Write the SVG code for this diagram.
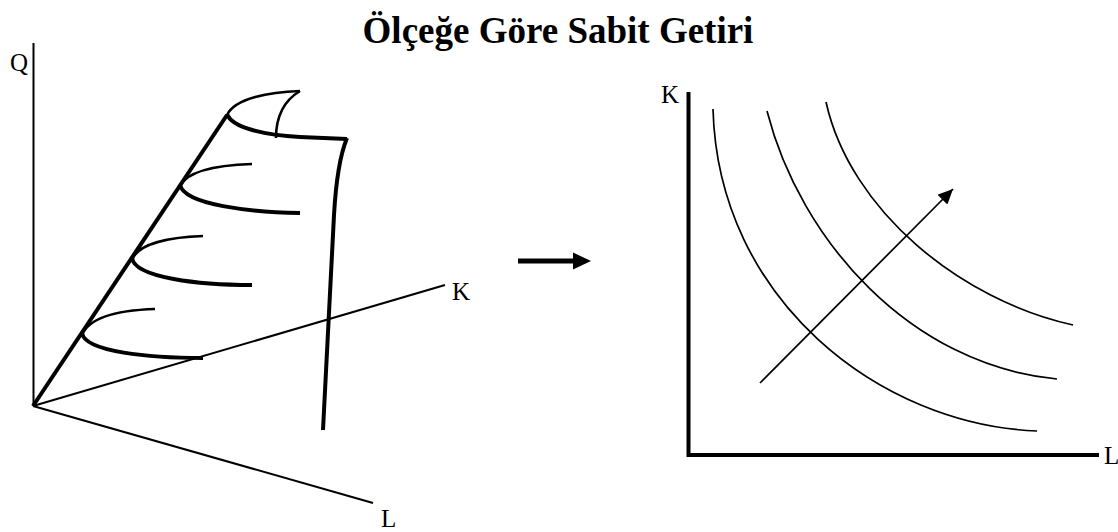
<svg xmlns="http://www.w3.org/2000/svg" width="1118" height="532" viewBox="0 0 1118 532">
  <style>
    .lbl { font-family: "Liberation Serif", "Times New Roman", serif; font-size: 25px; fill: #000; }
    .title { font-family: "Liberation Serif", "Times New Roman", serif; font-size: 37px; font-weight: bold; fill: #000; }
    .thin { fill: none; stroke: #000; stroke-width: 2; stroke-linecap: butt; }
    .thick { fill: none; stroke: #000; stroke-width: 4; stroke-linecap: butt; stroke-linejoin: miter; }
    .mid { fill: none; stroke: #000; stroke-width: 2.6; }
    .iso { fill: none; stroke: #000; stroke-width: 1.7; }
  </style>
  <defs>
    <marker id="headSmall" markerUnits="userSpaceOnUse" markerWidth="16" markerHeight="14" refX="15" refY="7" orient="auto">
      <path d="M0,0 L15,7 L0,14 z" fill="#000"/>
    </marker>
  </defs>
  <rect width="1118" height="532" fill="#fff"/>

  <g id="title">
    <text class="title" x="558" y="43" text-anchor="middle">Ölçeğe Göre Sabit Getiri</text>
  </g>

  <g id="left-axes">
    <line class="thin" x1="33.5" y1="43" x2="33.5" y2="406"/>
    <line class="thin" x1="33" y1="406" x2="445" y2="285"/>
    <line class="thin" x1="33" y1="406" x2="373" y2="503"/>
    <text class="lbl" x="10" y="70.5">Q</text>
    <text class="lbl" x="452" y="299.5">K</text>
    <text class="lbl" x="381" y="527">L</text>
  </g>

  <g id="production-surface">
    <line class="thick" x1="33" y1="406" x2="227" y2="115"/>
    <path class="mid" d="M227,115 C235,98 270,92 300,91"/>
    <path class="mid" d="M300,91 C285,100 276,115 276,138"/>
    <path class="thick" d="M227,114 C232,128 265,135 300,137 L347,139"/>
    <path class="thick" d="M347,138 C340,155 336,180 334,215 L323,430"/>
    <path class="mid" d="M180,186 C188,170 220,165 252,164"/>
    <path class="thick" d="M180,185 C185,205 250,212 300,213"/>
    <path class="mid" d="M132,260 C138,242 175,237 203,236"/>
    <path class="thick" d="M132,258 C135,278 200,285 252,285"/>
    <path class="mid" d="M82,335 C90,315 125,310 155,309"/>
    <path class="thick" d="M82,333 C85,352 150,358 203,358"/>
  </g>

  <g id="right-axes">
    <polyline class="thick" points="688.5,92 688.5,455 1099,455"/>
    <text class="lbl" x="661" y="102.5">K</text>
    <text class="lbl" x="1104" y="463.5">L</text>
  </g>

  <g id="isoquants">
    <path class="iso" d="M713,109 C718,300 880,425 1037,431"/>
    <path class="iso" d="M767,111 C800,240 910,365 1057,379"/>
    <path class="iso" d="M826,102 C850,210 960,300 1073,325"/>
  </g>

  <g id="connectors">
    <line x1="518" y1="261" x2="574" y2="261" stroke="#000" stroke-width="5"/>
    <path d="M573,252.5 L591,261 L573,269.5 z" fill="#000"/>
    <line x1="760" y1="383" x2="953" y2="189" stroke="#000" stroke-width="1.7" marker-end="url(#headSmall)"/>
  </g>
</svg>
